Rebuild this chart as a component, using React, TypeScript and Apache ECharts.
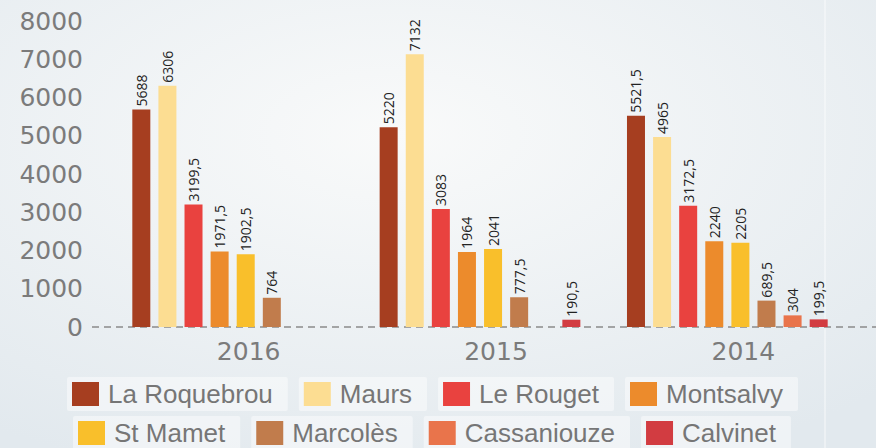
import React, { useEffect, useRef } from "react";
import * as echarts from "echarts";

const categories = ["2016", "2015", "2014"];
const seriesNames = [
  "La Roquebrou",
  "Maurs",
  "Le Rouget",
  "Montsalvy",
  "St Mamet",
  "Marcolès",
  "Cassaniouze",
  "Calvinet",
];
const laRoquebrou = [5688, 5220, 5521.5];
const maurs = [6306, 7132, 4965];
const leRouget = [3199.5, 3083, 3172.5];
const montsalvy = [1971.5, 1964, 2240];
const stMamet = [1902.5, 2041, 2205];
const marcoles = [764, 777.5, 689.5];
const cassaniouze = [null, null, 304];
const calvinet = [null, 190.5, 199.5];
const yTicks = { min: 0, max: 8000, interval: 1000 };

const seriesValues = [laRoquebrou, maurs, leRouget, montsalvy, stMamet, marcoles, cassaniouze, calvinet];
const colors = ["#A63E20", "#FCDD92", "#E9423F", "#EC8B2C", "#F9BF2B", "#C17C4C", "#E9744B", "#D23C41"];

export default function App() {
  const ref = useRef<HTMLDivElement>(null);
  useEffect(() => {
    document.body.style.margin = "0";
    const chart = echarts.init(ref.current!, null, { renderer: "svg" });
    const rich: any = {
      t: {
        fontSize: 26,
        lineHeight: 26,
        fontFamily: "Liberation Sans",
        color: "#767676",
        padding: [0, 0, 0, 9],
      },
    };
    seriesNames.forEach((_, i) => {
      rich["s" + i] = { width: 27, height: 24, backgroundColor: colors[i] };
    });
    const legendBase = {
      orient: "horizontal",
      itemWidth: 0,
      itemHeight: 0,
      itemGap: 6,
      padding: 0,
      formatter: (name: string) => `{s${seriesNames.indexOf(name)}|}{t|${name}}`,
      textStyle: {
        backgroundColor: "rgba(255,255,255,0.45)",
        padding: [4, 15, 4, 5],
        borderRadius: 2,
        rich,
      },
    };
    chart.setOption({
      animation: false,
      backgroundColor: {
        type: "radial",
        x: 0.45,
        y: 0.3,
        r: 0.8,
        colorStops: [
          { offset: 0, color: "#f9fafa" },
          { offset: 1, color: "#e2e9ee" },
        ],
      },
      grid: { left: 109, right: 25, top: 21, bottom: 121 },
      legend: [
        { ...legendBase, data: seriesNames.slice(0, 4), left: 62, top: 377 },
        { ...legendBase, data: seriesNames.slice(4), left: 68, top: 416 },
      ],
      xAxis: {
        type: "category",
        data: categories,
        axisLine: { show: false },
        axisTick: { show: false },
        axisLabel: {
          fontFamily: "DejaVu Sans",
          fontSize: 25,
          color: "#7b7b7b",
          margin: 12,
          padding: [0, 0, 0, 32],
        },
      },
      yAxis: {
        type: "value",
        ...yTicks,
        splitLine: { show: false },
        axisLine: { show: false },
        axisTick: { show: false },
        axisLabel: {
          fontFamily: "DejaVu Sans",
          fontSize: 25,
          color: "#7b7b7b",
          margin: 26,
          formatter: (v: number) => String(v),
        },
      },
      series: seriesNames.map((name, i) => ({
        name,
        type: "bar",
        data: seriesValues[i],
        barWidth: 18,
        barGap: "45%",
        itemStyle: { color: colors[i] },
        label: {
          show: true,
          position: "top",
          rotate: 90,
          align: "left",
          verticalAlign: "middle",
          distance: 3,
          fontFamily: "Open Sans",
          fontSize: 14,
          color: "#222",
          formatter: (p: any) => String(p.value).replace(".", ","),
        },
      })),
    });
    const y0 = chart.convertToPixel({ yAxisIndex: 0 }, 0) as number;
    chart.setOption({
      graphic: [
        {
          type: "line",
          z: 0,
          shape: { x1: 825, y1: 0, x2: 825, y2: 448 },
          style: { stroke: "rgba(255,255,255,0.75)", lineWidth: 1 },
        },
        {
          type: "line",
          z: 1,
          shape: { x1: 92, y1: y0, x2: 876, y2: y0 },
          style: { stroke: "#8a8a8a", lineWidth: 1.5, lineDash: [7, 5] },
        },
      ],
    });
    return () => chart.dispose();
  }, []);
  return <div ref={ref} style={{ width: 876, height: 448 }} />;
}
